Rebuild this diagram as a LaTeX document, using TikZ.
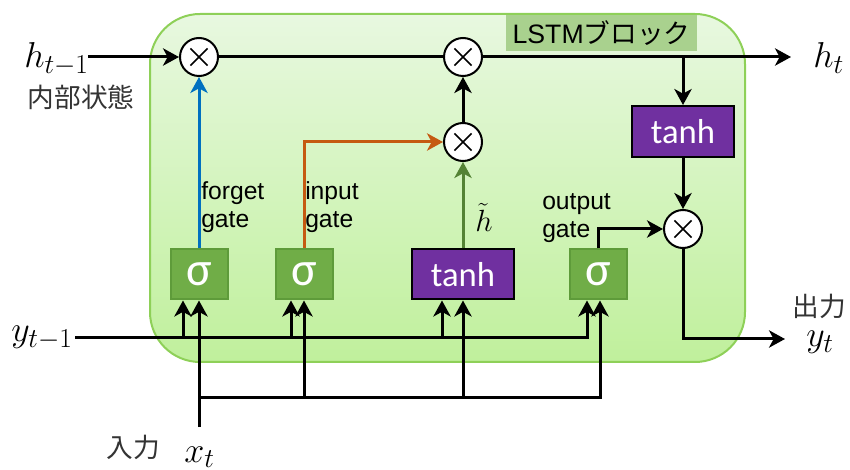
\RequirePackage{fix-cm}
\documentclass[tikz,border=0pt]{standalone}
\usepackage[no-math]{fontspec}
\setmainfont{Liberation Sans}
\newfontfamily\jpfont{Noto Sans CJK JP}
\newfontfamily\calfont{Carlito}
\usetikzlibrary{arrows.meta}
\DeclareMathSizes{27}{27}{20.5}{15}
\DeclareMathSizes{23}{23}{17}{13}
\definecolor{blkTop}{RGB}{232,248,224}
\definecolor{blkBot}{RGB}{192,240,156}
\definecolor{blkBorder}{RGB}{142,208,88}
\definecolor{lblFill}{RGB}{169,209,142}
\definecolor{sigFill}{RGB}{112,173,71}
\definecolor{sigBorder}{RGB}{94,155,58}
\definecolor{purp}{RGB}{112,48,160}
\definecolor{fgBlue}{RGB}{0,112,192}
\definecolor{inOrange}{RGB}{197,90,17}
\definecolor{hGreen}{RGB}{84,130,53}
\begin{document}
\begin{tikzpicture}[x=0.75pt,y=-0.75pt,
  ln/.style={line width=2.25pt},
  arr/.style={line width=2.25pt,-{Stealth[length=12pt,width=13pt,inset=3.5pt]}},
  mult/.style={circle,draw,line width=1.5pt,fill=white,minimum size=28.5pt,inner sep=0pt,
    path picture={\draw[line width=1.1pt]
      ([shift={(-6.4pt,-6.4pt)}]path picture bounding box.center) -- ([shift={(6.4pt,6.4pt)}]path picture bounding box.center)
      ([shift={(-6.4pt,6.4pt)}]path picture bounding box.center) -- ([shift={(6.4pt,-6.4pt)}]path picture bounding box.center);}},
  sigbox/.style={draw=sigBorder,fill=sigFill,line width=1.5pt,minimum width=42.75pt,minimum height=37.5pt,inner sep=0pt,
    text=white,font=\calfont\fontsize{36}{36}\selectfont},
  tanhbox/.style={draw=black,fill=purp,line width=1.5pt,minimum width=76.5pt,minimum height=37.5pt,inner sep=0pt,
    text=white,font=\calfont\fontsize{26}{26}\selectfont},
  mathlbl/.style={inner sep=0pt,font=\fontsize{27}{30}\selectfont},
  jplbl/.style={inner sep=0pt,text=black!80,font=\jpfont\fontsize{20}{24}\selectfont},
  gatelbl/.style={inner sep=0pt,align=left,font=\fontsize{18.5}{21}\selectfont}
]
\useasboundingbox (0,0) rectangle (850,470);
% block
\node[draw=blkBorder,line width=1.5pt,top color=blkTop,bottom color=blkBot,rounded corners=37.5pt,
  minimum width=446.25pt,minimum height=261pt,inner sep=0pt] (block) at (447.5,188) {};
\node[fill=lblFill,minimum width=143.25pt,minimum height=26.5pt,inner sep=0pt,
  font=\fontsize{20}{24}\selectfont] (blocklbl) at (601.5,33) {LSTM{\jpfont ブロック}};
% circles
\node[mult] (c1) at (199,57) {};
\node[mult] (c2) at (463,57) {};
\node[mult] (c3) at (463,142) {};
\node[mult] (c4) at (683,229) {};
% boxes
\node[sigbox] (sig1) at (199,274.5) {σ};
\node[sigbox] (sig2) at (304,274.5) {σ};
\node[tanhbox] (tanh1) at (463,274.5) {tanh};
\node[sigbox] (sig3) at (598.5,274.5) {σ};
\node[tanhbox,minimum height=38.25pt] (tanh2) at (683,131.5) {tanh};
% labels
\node[mathlbl,anchor=base west] (hprev) at (24,68) {$h_{t-1}$};
\node[jplbl] (hprevjp) at (81,97) {内部状態};
\node[mathlbl,anchor=base west] (hnext) at (813,68) {$h_t$};
\node[mathlbl,anchor=base west] (yprev) at (11,342) {$y_{t-1}$};
\node[mathlbl,anchor=base west] (ynext) at (806,347) {$y_t$};
\node[jplbl] (outjp) at (819,306) {出力};
\node[mathlbl,anchor=base west] (xin) at (184,462) {$x_t$};
\node[jplbl] (injp) at (133,447) {入力};
\node[inner sep=0pt,font=\fontsize{23}{25}\selectfont,anchor=base west] (htil) at (475,232) {$\tilde{h}$};
\node[gatelbl,anchor=north west] (fg) at (201,181) {forget\\gate};
\node[gatelbl,anchor=north west] (ig) at (305,181) {input\\gate};
\node[gatelbl,anchor=north west] (og) at (542,193) {output\\gate};
% coordinates
\coordinate (hin) at (88,57);
\coordinate (hout) at (791,57);
\coordinate (br) at (683,57);
\coordinate (yout) at (785,339);
\coordinate (yin) at (75,338);
\coordinate (ycorner) at (587,338);
\coordinate (yb1) at (183,338);
\coordinate (yb2) at (291,338);
\coordinate (yb3) at (442,338);
\coordinate (xbot) at (199,427);
\coordinate (xb0) at (199,397);
\coordinate (xb1) at (304,397);
\coordinate (xb2) at (463,397);
\coordinate (xcorner) at (600,397);
% cell state line
\draw[arr] (hin) -- (c1.west);
\draw[ln] (c1.east) -- (c2.west);
\draw[arr] (c2.east) -- (hout);
\draw[arr] (br) -- (tanh2.north);
\draw[arr] (tanh2.south) -- (c4.north);
\draw[arr] (c3.north) -- (c2.south);
% gates
\draw[arr,fgBlue] (sig1.north) -- (c1.south);
\draw[arr,inOrange] (sig2.north) |- (c3.west);
\draw[arr,hGreen] (tanh1.north) -- (c3.south);
\draw[arr] (sig3.north) |- (c4.west);
\draw[arr] (c4.south) |- (yout);
% y_{t-1} bus
\draw[arr] (yin) -- (ycorner) -- (ycorner |- sig3.south);
\draw[arr] (yb1) -- (yb1 |- sig1.south);
\draw[arr] (yb2) -- (yb2 |- sig2.south);
\draw[arr] (yb3) -- (yb3 |- tanh1.south);
% x_t bus
\draw[arr] (xbot) -- (xbot |- sig1.south);
\draw[arr] (xb0) -- (xcorner) -- (xcorner |- sig3.south);
\draw[arr] (xb1) -- (xb1 |- sig2.south);
\draw[arr] (xb2) -- (xb2 |- tanh1.south);
\end{tikzpicture}
\end{document}
